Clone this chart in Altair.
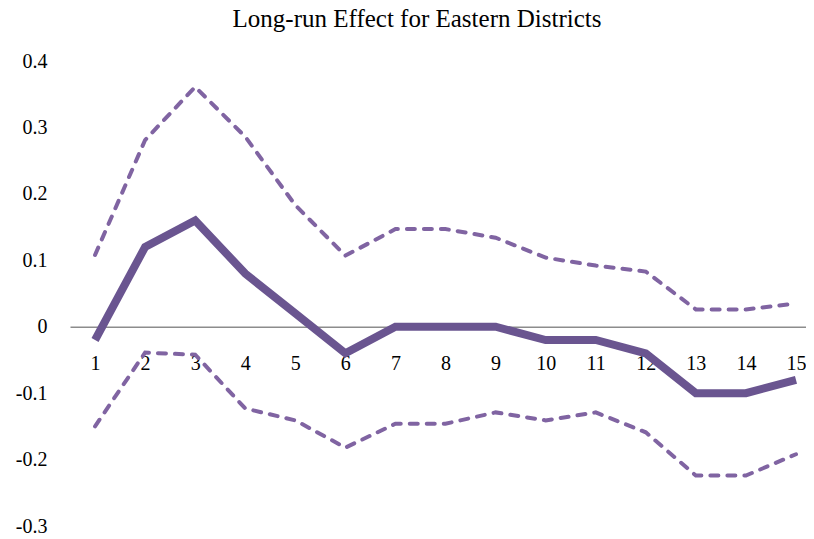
import altair as alt
import pandas as pd

periods = list(range(1, 16))
effect = [-0.02, 0.12, 0.16, 0.08, 0.02, -0.04, 0.0, 0.0, 0.0, -0.02, -0.02, -0.04, -0.10, -0.10, -0.08]
upper = [0.108, 0.281, 0.361, 0.286, 0.183, 0.107, 0.147, 0.147, 0.134, 0.104, 0.092, 0.083, 0.026, 0.026, 0.035]
lower = [-0.150, -0.039, -0.042, -0.123, -0.141, -0.182, -0.146, -0.146, -0.129, -0.141, -0.129, -0.159, -0.224, -0.224, -0.192]
y_ticks = [-0.3, -0.2, -0.1, 0.0, 0.1, 0.2, 0.3, 0.4]

df = pd.DataFrame({"period": periods, "effect": effect, "upper": upper, "lower": lower})

FONT = "Liberation Serif"
W, H = 736, 465
x_scale = alt.Scale(domain=[0.5, 15.2], nice=False, zero=False)
y_scale = alt.Scale(domain=[-0.3, 0.4], nice=False, zero=False)

x_enc = alt.X(
    "period:Q",
    scale=x_scale,
    axis=alt.Axis(
        values=periods, title=None, grid=False, ticks=False,
        domain=True, domainColor="#8c8c8c", domainWidth=1.5,
        offset=-(H * 3 / 7), labelPadding=27, labelFont=FONT,
        labelFontSize=20, labelColor="#000000", format="d",
    ),
)

y_axis = alt.Axis(
    values=y_ticks, title=None, grid=False, ticks=False, domain=False,
    labelPadding=23, labelFont=FONT, labelFontSize=20, labelColor="#000000",
    labelExpr="datum.value == 0 ? '0' : replace(format(datum.value, '.1f'), '\u2212', '-')",
)

base = alt.Chart(df)

dash_style = dict(color="#8064a2", strokeWidth=4, strokeDash=[8, 9], strokeCap="round")

up = base.mark_line(**dash_style).encode(
    x=x_enc, y=alt.Y("upper:Q", scale=y_scale, axis=y_axis)
)
lo = base.mark_line(**dash_style).encode(
    x=alt.X("period:Q", scale=x_scale), y=alt.Y("lower:Q", scale=y_scale)
)
main = base.mark_line(color="#6a5590", strokeWidth=8, strokeJoin="miter").encode(
    x=alt.X("period:Q", scale=x_scale), y=alt.Y("effect:Q", scale=y_scale)
)

chart = alt.layer(up, lo, main).properties(
    width=W, height=H,
    title=alt.TitleParams(
        "Long-run Effect for Eastern Districts", font=FONT, fontSize=25,
        fontWeight="normal", color="#000000", anchor="middle", offset=19, dx=-21,
    ),
    autosize=alt.AutoSizeParams(type="none"),
    padding={"left": 62, "top": 53, "right": 0, "bottom": 14},
).configure_view(stroke=None)

chart.save("out.html", embed_options={"renderer": "svg", "actions": False})
